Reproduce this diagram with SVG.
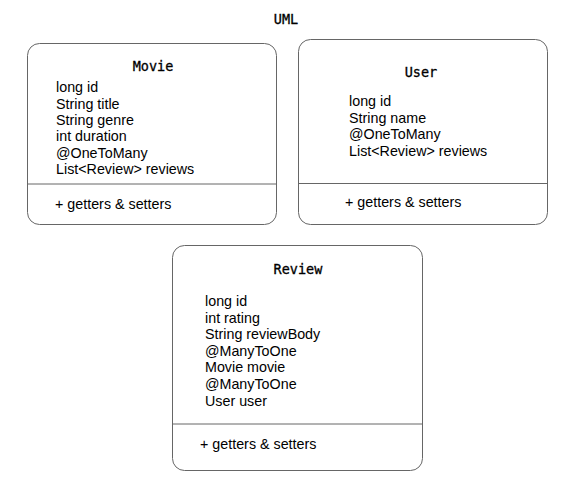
<svg xmlns="http://www.w3.org/2000/svg" width="578" height="490" viewBox="0 0 578 490">
<style>
.box{fill:#ffffff;stroke:#666666;stroke-width:1}
.div{stroke:#666666;stroke-width:1}
.title{font-family:"DejaVu Sans Mono","Liberation Mono",monospace;font-size:13.5px;font-weight:normal;fill:#000;stroke:#000;stroke-width:0.3;text-anchor:middle}
.attr{font-family:"Liberation Sans",Arial,sans-serif;font-size:14.3px;fill:#000}
</style>
<rect width="578" height="490" fill="#ffffff"/>
<text class="title" x="286" y="24">UML</text>
<g id="movie">
<rect class="box" x="27.5" y="43.5" width="249" height="181" rx="12" ry="12"/>
<line class="div" x1="27.5" y1="184" x2="276.5" y2="184"/>
<text class="title" x="153" y="71">Movie</text>
<text class="attr" x="56" y="92">long id</text>
<text class="attr" x="56" y="108.5">String title</text>
<text class="attr" x="56" y="125">String genre</text>
<text class="attr" x="56" y="141">int duration</text>
<text class="attr" x="56" y="157.5">@OneToMany</text>
<text class="attr" x="56" y="174">List&lt;Review&gt; reviews</text>
<text class="attr" x="55" y="209">+ getters &amp; setters</text>
</g>
<g id="user">
<rect class="box" x="298.5" y="39.5" width="249" height="185" rx="12" ry="12"/>
<line class="div" x1="298.5" y1="183.5" x2="547.5" y2="183.5"/>
<text class="title" x="421" y="77">User</text>
<text class="attr" x="349" y="106">long id</text>
<text class="attr" x="349" y="122.7">String name</text>
<text class="attr" x="349" y="139.3">@OneToMany</text>
<text class="attr" x="349" y="156">List&lt;Review&gt; reviews</text>
<text class="attr" x="345" y="207">+ getters &amp; setters</text>
</g>
<g id="review">
<rect class="box" x="172.5" y="245.5" width="250" height="225" rx="12" ry="12"/>
<line class="div" x1="172.5" y1="424" x2="422.5" y2="424"/>
<text class="title" x="298" y="273.5">Review</text>
<text class="attr" x="205" y="306">long id</text>
<text class="attr" x="205" y="322.5">int rating</text>
<text class="attr" x="205" y="339">String reviewBody</text>
<text class="attr" x="205" y="355.7">@ManyToOne</text>
<text class="attr" x="205" y="372.3">Movie movie</text>
<text class="attr" x="205" y="389">@ManyToOne</text>
<text class="attr" x="205" y="405.7">User user</text>
<text class="attr" x="200" y="448.5">+ getters &amp; setters</text>
</g>
<g id="connectors"/>
</svg>
